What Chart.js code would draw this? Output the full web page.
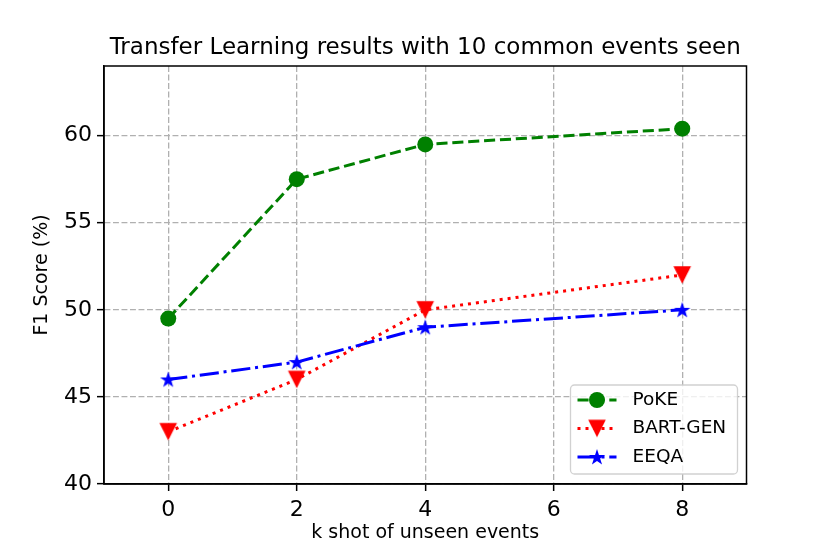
<!DOCTYPE html>
<html lang="en">
<head>
  <meta charset="UTF-8" />
  <title>Transfer Learning results</title>
  <script src="https://cdn.jsdelivr.net/npm/chart.js"></script>
  <style>
    html, body { margin: 0; padding: 0; background: #fff; }
    canvas { display: block; }
  </style>
</head>
<body>
  <canvas id="chart" width="830" height="554"></canvas>

  <script>
    // data
    const kShots = [0, 2, 4, 8];
    const pokeScores = [49.5, 57.5, 59.5, 60.4];
    const bartGenScores = [43, 46, 50, 52];
    const eeqaScores = [46, 47, 49, 50];
    const xTicks = [0, 2, 4, 6, 8];
    const yTicks = [40, 45, 50, 55, 60];

    const FONT = 'DejaVu Sans';

    // filled marker shapes like matplotlib's 'v' and '*'
    function makeMarker(color, draw) {
      const c = document.createElement('canvas');
      c.width = 20; c.height = 20;
      const g = c.getContext('2d');
      g.fillStyle = color;
      g.beginPath();
      draw(g);
      g.closePath();
      g.fill();
      return c;
    }
    const triangleDown = makeMarker('red', g => {
      g.moveTo(1.2, 1.2); g.lineTo(18.8, 1.2); g.lineTo(10, 18.8);
    });
    const star = makeMarker('blue', g => {
      for (let i = 0; i < 10; i++) {
        const r = i % 2 ? 3.3 : 8.6;
        const a = -Math.PI / 2 + i * Math.PI / 5;
        g.lineTo(10 + r * Math.cos(a), 10.6 + r * Math.sin(a));
      }
    });

    const toPoints = ys => kShots.map((x, i) => ({ x: x, y: ys[i] }));

    // top + right spines
    const frame = {
      id: 'frame',
      afterDatasetsDraw(chart) {
        const { ctx, chartArea: a } = chart;
        ctx.save();
        ctx.strokeStyle = '#000';
        ctx.lineWidth = 1.5;
        ctx.strokeRect(a.left, a.top, a.right - a.left, a.bottom - a.top);
        ctx.restore();
      }
    };

    // matplotlib-like legend (line sample + marker), lower right
    const mplLegend = {
      id: 'mplLegend',
      afterDraw(chart) {
        const { ctx, chartArea: a } = chart;
        const w = 167, h = 89;
        const x0 = a.right - 9 - w, y0 = a.bottom - 10 - h;
        ctx.save();
        ctx.beginPath();
        ctx.roundRect(x0, y0, w, h, 4);
        ctx.fillStyle = 'rgba(255,255,255,0.8)';
        ctx.fill();
        ctx.strokeStyle = 'rgba(204,204,204,0.9)';
        ctx.lineWidth = 1.3;
        ctx.stroke();

        chart.data.datasets.forEach((ds, i) => {
          const y = y0 + 15 + i * 28.5;
          ctx.beginPath();
          ctx.setLineDash(ds.borderDash || []);
          ctx.strokeStyle = ds.borderColor;
          ctx.lineWidth = ds.borderWidth;
          ctx.moveTo(x0 + 7, y);
          ctx.lineTo(x0 + 46, y);
          ctx.stroke();
          ctx.setLineDash([]);
          const mx = x0 + 26.5;
          if (typeof ds.pointStyle === 'string') {
            ctx.beginPath();
            ctx.fillStyle = ds.backgroundColor;
            ctx.arc(mx, y, ds.pointRadius, 0, Math.PI * 2);
            ctx.fill();
          } else {
            ctx.drawImage(ds.pointStyle, mx - 10, y - 10);
          }
          ctx.fillStyle = '#000';
          ctx.font = '18.5px "' + FONT + '"';
          ctx.textBaseline = 'middle';
          ctx.textAlign = 'left';
          ctx.fillText(ds.label, x0 + 62, y);
        });
        ctx.restore();
      }
    };

    const gridOpts = { color: '#b0b0b0', lineWidth: 1.3, tickColor: '#000', tickLength: 7, tickWidth: 1.5 };
    const borderOpts = { color: '#000', width: 1.5, dash: [5.9, 2.6] };

    new Chart(document.getElementById('chart'), {
      type: 'line',
      data: {
        datasets: [
          {
            label: 'PoKE',
            data: toPoints(pokeScores),
            borderColor: 'green',
            backgroundColor: 'green',
            borderWidth: 3,
            borderDash: [11.1, 4.8],
            borderJoinStyle: 'round',
            pointStyle: 'circle',
            pointRadius: 8,
            pointBorderWidth: 0,
            order: 3
          },
          {
            label: 'BART-GEN',
            data: toPoints(bartGenScores),
            borderColor: 'red',
            backgroundColor: 'red',
            borderWidth: 3,
            borderDash: [3, 5],
            borderJoinStyle: 'round',
            pointStyle: triangleDown,
            pointRadius: 8,
            order: 2
          },
          {
            label: 'EEQA',
            data: toPoints(eeqaScores),
            borderColor: 'blue',
            backgroundColor: 'blue',
            borderWidth: 3,
            borderDash: [19.2, 4.8, 3, 4.8],
            borderJoinStyle: 'round',
            pointStyle: star,
            pointRadius: 8,
            order: 1
          }
        ]
      },
      options: {
        responsive: false,
        animation: false,
        layout: { padding: { left: 0, right: 83.5, top: 0, bottom: 0 } },
        plugins: {
          legend: { display: false },
          tooltip: { enabled: false },
          title: {
            display: true,
            text: 'Transfer Learning results with 10 common events seen',
            fullSize: false,
            color: '#000',
            font: { family: FONT, size: 23, weight: 'normal' },
            padding: { top: 34.2, bottom: 4.2 }
          }
        },
        scales: {
          x: {
            type: 'linear',
            min: -1,
            max: 9,
            afterBuildTicks: s => { s.ticks = xTicks.map(v => ({ value: v })); },
            afterFit: s => { s.height = 70; },
            ticks: { color: '#000', font: { family: FONT, size: 22 }, padding: 6, maxRotation: 0 },
            grid: gridOpts,
            border: borderOpts,
            title: {
              display: true,
              text: 'k shot of unseen events',
              color: '#000',
              font: { family: FONT, size: 19 },
              padding: { top: 0, bottom: 10 }
            }
          },
          y: {
            min: 40,
            max: 64,
            afterBuildTicks: s => { s.ticks = yTicks.map(v => ({ value: v })); },
            afterFit: s => { s.width = 104; },
            ticks: { color: '#000', font: { family: FONT, size: 22 }, padding: 5 },
            grid: gridOpts,
            border: borderOpts,
            title: {
              display: true,
              text: 'F1 Score (%)',
              color: '#000',
              font: { family: FONT, size: 19 },
              padding: { top: 30.3, bottom: 0 }
            }
          }
        }
      },
      plugins: [frame, mplLegend]
    });
  </script>
</body>
</html>
